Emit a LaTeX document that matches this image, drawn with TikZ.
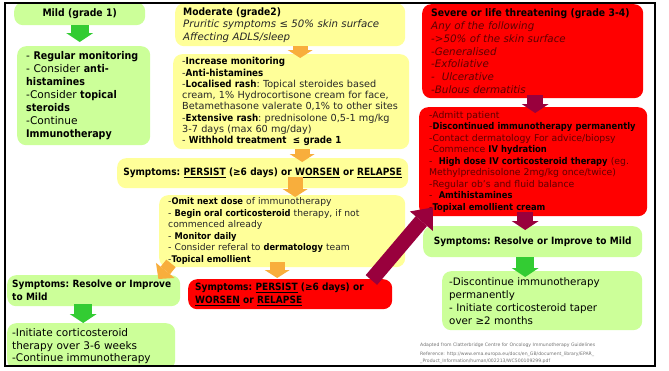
\documentclass[tikz,border=0pt]{standalone}
\usepackage{fontspec}
\setmainfont{DejaVu Sans}[BoldFeatures={FakeStretch=0.9}]
\usetikzlibrary{arrows.meta}
\definecolor{lgreen}{HTML}{CCFF99}
\definecolor{pyellow}{HTML}{FFFF99}
\definecolor{pred}{HTML}{FF0000}
\definecolor{dred}{HTML}{5E0000}
\definecolor{agreen}{HTML}{33CC33}
\definecolor{aorange}{HTML}{F8AE3C}
\definecolor{amaroon}{HTML}{99003D}
\newcommand{\bk}[1]{\textbf{\color{black}#1}}
\newcommand{\fsz}[2]{\fontsize{#1pt}{#2pt}\selectfont}
\tikzset{
  card/.style ={anchor=north west, rounded corners=9pt, inner ysep=0pt, inner xsep=8pt, align=left,
                execute at begin node={\hyphenpenalty=10000\exhyphenpenalty=10000}},
  gbox/.style ={card, fill=lgreen},
  ybox/.style ={card, fill=pyellow, text=black!85},
  rbox/.style ={card, fill=pred, text=dred},
  garr/.style ={draw=agreen, line width=18pt, -{Triangle[length=9pt,width=27pt,line width=0pt]}},
  oarr/.style ={draw=aorange, line width=15pt, -{Triangle[length=8pt,width=25pt,line width=0pt]}},
  marr/.style ={draw=amaroon, line width=16pt, -{Triangle[length=9pt,width=27pt,line width=0pt]}},
  foot/.style ={anchor=north west, inner sep=0pt, align=left, text=black!55, font=\fsz{4.6}{6.5}},
}
\begin{document}
\begin{tikzpicture}[x=1pt, y=-1pt]
  \useasboundingbox[fill=white] (0,0) rectangle (669,370);
  \begin{scope}
  \clip (5,3) rectangle (655,366);
  % grade 1
  \node[gbox, text width=115pt, minimum height=23pt, align=center, font=\bfseries\fsz{10.3}{12}] (mild) at (14,2) {Mild (grade 1)};
  \node[gbox, inner xsep=9pt, text width=115pt, minimum height=99pt, font=\fsz{10.6}{13}] (mildlist) at (17,46)
    {- \textbf{Regular~monitoring}\\- Consider \textbf{anti-}\\\textbf{histamines}\\-Consider \textbf{topical}\\\textbf{steroids}\\-Continue\\\textbf{Immunotherapy}};
  % grade 2
  \node[ybox, text width=214pt, minimum height=43pt, font=\fsz{10.2}{12.5}] (moderate) at (175,3)
    {\bk{Moderate (grade2)}\\\textit{Pruritic~symptoms~≤~50\%~skin~surface}\\\textit{Affecting ADLS/sleep}};
  \node[ybox, inner xsep=9pt, text width=218pt, minimum height=95pt, font=\fsz{9.7}{11.3}] (modlist) at (173,54)
    {-\bk{Increase monitoring}\\-\bk{Anti-histamines}\\-\bk{Localised~rash}:~Topical~steroides~based\\cream,~1\%~Hydrocortisone~cream~for~face,\\Betamethasone~valerate~0,1\%~to~other~sites\\-\bk{Extensive~rash}:~prednisolone~0,5-1~mg/kg\\3-7 days (max 60 mg/day)\\- \bk{Withhold treatment \ ≤ grade 1}};
  \node[ybox, inner xsep=5pt, text width=281pt, minimum height=30pt, align=center, font=\bfseries\fsz{10}{12}] (persist) at (117,158)
    {\bk{Symptoms:~\underline{PERSIST}~(≥6~days)~or~\underline{WORSEN}~or~\underline{RELAPSE}}};
  \node[ybox, inner xsep=9pt, text width=228pt, minimum height=72pt, font=\fsz{9.2}{11.5}] (omit) at (159,195)
    {-\bk{Omit next dose} of immunotherapy\\- \bk{Begin~oral~corticosteroid}~therapy,~if~not\\commenced already\\- \bk{Monitor daily}\\- Consider~referal~to~\bk{dermatology}~team\\-\bk{Topical emollient}};
  \node[gbox, inner xsep=5pt, text width=163pt, minimum height=31pt, font=\bfseries\fsz{10}{13}] (leftres) at (7,275)
    {Symptoms:~Resolve~or~Improve\\to Mild};
  \node[gbox, inner xsep=5pt, text width=158pt, minimum height=46pt, font=\fsz{10.5}{12.5}] (leftfinal) at (7,323)
    {-Initiate~corticosteroid\\therapy~over~3-6~weeks\\-Continue~immunotherapy};
  \node[rbox, inner xsep=7pt, text width=190pt, minimum height=30pt, font=\fsz{10}{13}] (redpersist) at (188,279)
    {\bk{Symptoms:~\underline{PERSIST}~(≥6~days)~or}\\\bk{\underline{WORSEN} or \underline{RELAPSE}}};
  % grade 3-4
  \node[rbox, inner xsep=9pt, text width=203pt, minimum height=94pt, font=\fsz{10.3}{12.7}] (severe) at (422,4)
    {\bk{Severe~or~life~threatening~(grade~3-4)}\\\textit{Any of the following}\\\textit{->50\%~of~the~skin~surface}\\\textit{-Generalised}\\\textit{-Exfoliative}\\\textit{- \ Ulcerative}\\\textit{-Bulous dermatitis}};
  \node[rbox, inner xsep=10pt, text width=208pt, minimum height=109pt, font=\fsz{9.3}{11.5}] (redlist) at (419,107)
    {-Admitt patient\\-\bk{Discontinued~immunotherapy~permanently}\\-Contact~dermatology~For~advice/biopsy\\-Commence \bk{IV hydration}\\- \ \bk{High~dose~IV~corticosteroid~therapy}~(eg.\\Methylprednisolone~2mg/kg~once/twice)\\-Regular ob's and fluid balance\\- \ \bk{Amtihistamines}\\-\bk{Topixal emollient cream}};
  \node[gbox, inner xsep=5pt, text width=209pt, minimum height=31pt, align=center, font=\bfseries\fsz{10}{13}] (rightres) at (423,226)
    {Symptoms:~Resolve~or~Improve~to~Mild};
  \node[gbox, inner xsep=7pt, text width=186pt, minimum height=59pt, font=\fsz{10.3}{13}] (rightfinal) at (442,271)
    {-Discontinue~immunotherapy\\permanently\\- Initiate~corticosteroid~taper\\over ≥2 months};
  \node[foot] (src) at (420,343) {Adapted from Clatterbridge Centre for Oncology Immunotherapy Guidelines};
  \node[foot] (refs) at (420,352) {Reference: http://www.ema.europa.eu/docs/en\_GB/document\_library/EPAR\_\\ \_Product\_Information/human/002213/WC500109299.pdf};
  % arrows
  \draw[garr] (mild.south) -- ([yshift=4pt]mild.south |- mildlist.north);
  \draw[oarr] ([xshift=10pt]moderate.south) -- ([xshift=10pt,yshift=-4pt]moderate.south |- modlist.north);
  \draw[oarr] ([xshift=11pt]modlist.south) -- ([xshift=11pt,yshift=-4pt]modlist.south |- persist.north);
  \draw[oarr] ([xshift=32.5pt,yshift=11pt]persist.south) -- ([xshift=32.5pt,yshift=-2pt]persist.south |- omit.north);
  \draw[oarr, line width=12pt, -{Triangle[length=11pt,width=24pt,line width=0pt]}] ([xshift=12pt,yshift=4pt]omit.south west) -- ([xshift=-22pt,yshift=-4pt]leftres.north east);
  \draw[oarr] ([xshift=-5pt,yshift=5pt]omit.south) -- ([xshift=-5pt,yshift=1pt]omit.south |- redpersist.north);
  \draw[garr] ([xshift=-10.5pt,yshift=2pt]leftres.south) -- ([xshift=-10.5pt]leftres.south |- leftfinal.north);
  \draw[marr, line width=15pt, -{Triangle[length=18pt,width=30pt,line width=0pt]}] ([xshift=-21pt,yshift=-1pt]redpersist.north east) -- ([xshift=14pt,yshift=9pt]redlist.south west);
  \draw[marr] ([xshift=2.5pt,yshift=3pt]severe.south) -- ([xshift=2.5pt,yshift=-6pt]severe.south |- redlist.north);
  \draw[marr] ([xshift=-8pt,yshift=4pt]redlist.south) -- ([xshift=-8pt,yshift=-4pt]redlist.south |- rightres.north);
  \draw[garr] ([xshift=-7.5pt]rightres.south) -- ([xshift=-7.5pt,yshift=-6pt]rightres.south |- rightfinal.north);
  \end{scope}
  \draw[line width=1.8pt] (5,3) rectangle (655,366);
\end{tikzpicture}
\end{document}
